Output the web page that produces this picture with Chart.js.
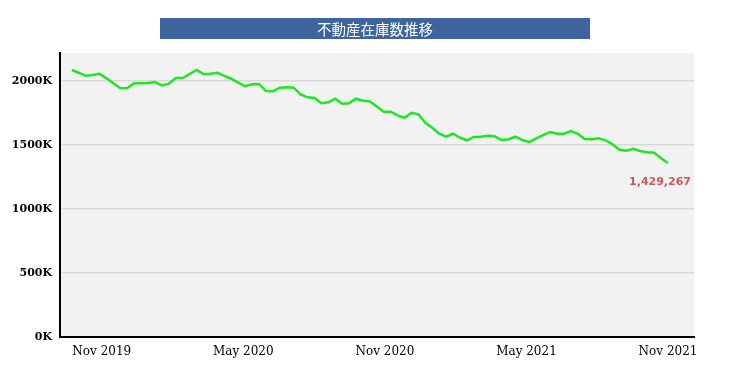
<!DOCTYPE html>
<html>
<head>
<meta charset="utf-8">
<script src="https://cdn.jsdelivr.net/npm/chart.js@4"></script>
<style>
    html, body { margin: 0; padding: 0; background: #fff; }
    #wrap { width: 750px; height: 375px; }
</style>
</head>
<body>
<div id="wrap"><canvas id="stockChart" width="750" height="375"></canvas></div>
<script>
// Inventory count (thousands), roughly every 9 days
const inventory = [
    2086, 2065, 2041, 2047, 2057, 2021, 1982, 1943, 1945, 1982,
    1982, 1984, 1992, 1966, 1979, 2023, 2023, 2055, 2086, 2055,
    2057, 2065, 2041, 2018, 1987, 1959, 1974, 1977, 1922, 1920,
    1948, 1951, 1948, 1896, 1873, 1867, 1826, 1834, 1862, 1823,
    1826, 1862, 1846, 1841, 1801, 1760, 1760, 1732, 1713, 1752,
    1740, 1674, 1635, 1588, 1565, 1588, 1557, 1537, 1563, 1565,
    1573, 1568, 1539, 1545, 1565, 1539, 1523, 1552, 1578, 1602,
    1588, 1588, 1609, 1588, 1547, 1545, 1552, 1537, 1505, 1463,
    1455, 1471, 1453, 1443, 1440, 1396, 1359
];
// months relative to Nov 2019
const firstMonth = -1.27;
const stepMonth = 0.2938;
const monthPos = inventory.map((v, i) => firstMonth + i * stepMonth);

const tickMonths = [0, 6, 12, 18, 24];
const tickLabels = ['Nov 2019', 'May 2020', 'Nov 2020', 'May 2021', 'Nov 2021'];
const yTicks = [0, 500, 1000, 1500, 2000];
const chartTitle = '不動産在庫数推移';
const latestLabel = '1,429,267';

// Plot background + title banner + latest value text
const decorations = {
    id: 'decorations',
    beforeDraw(chart) {
        const { ctx, chartArea: a } = chart;
        ctx.save();
        ctx.fillStyle = '#f2f2f2';
        ctx.fillRect(a.left, a.top, a.right - a.left, a.bottom - a.top);

        ctx.fillStyle = '#3e64a0';
        ctx.fillRect(160, 18, 430, 21);
        ctx.fillStyle = '#ffffff';
        ctx.font = '14.5px "Noto Sans CJK JP"';
        ctx.textAlign = 'center';
        ctx.textBaseline = 'middle';
        ctx.fillText(chartTitle, 375, 29);
        ctx.restore();
    },
    afterDatasetsDraw(chart) {
        const { ctx, chartArea: a } = chart;
        const meta = chart.getDatasetMeta(0);
        const last = meta.data[meta.data.length - 1];
        ctx.save();
        ctx.fillStyle = '#c85a5a';
        ctx.font = 'bold 11px "DejaVu Sans"';
        ctx.textAlign = 'right';
        ctx.textBaseline = 'middle';
        ctx.fillText(latestLabel, a.right - 3, last.y + 19);
        ctx.restore();
    }
};

new Chart(document.getElementById('stockChart'), {
    type: 'line',
    data: {
        datasets: [{
            data: inventory.map((v, i) => ({ x: monthPos[i], y: v })),
            borderColor: '#1de81d',
            borderWidth: 2.5,
            pointRadius: 0,
            tension: 0,
            fill: false
        }]
    },
    options: {
        responsive: false,
        animation: false,
        layout: { padding: { top: 53, right: 56, left: 0, bottom: 0 } },
        plugins: {
            legend: { display: false },
            tooltip: { enabled: false }
        },
        scales: {
            x: {
                type: 'linear',
                min: -1.77,
                max: 25.1,
                afterBuildTicks: axis => {
                    axis.ticks = tickMonths.map(v => ({ value: v }));
                },
                afterFit: axis => { axis.height = 38; },
                grid: { display: false },
                border: { color: '#000', width: 2 },
                ticks: {
                    color: '#000',
                    padding: 0,
                    maxRotation: 0,
                    font: { family: 'DejaVu Serif', size: 12 },
                    callback: function (value) {
                        const i = tickMonths.indexOf(value);
                        return i >= 0 ? tickLabels[i] : '';
                    }
                }
            },
            y: {
                min: 0,
                max: 2219,
                afterBuildTicks: axis => {
                    axis.ticks = yTicks.map(v => ({ value: v }));
                },
                afterFit: axis => { axis.width = 60; },
                grid: {
                    color: '#d8d8d8',
                    lineWidth: 1.5,
                    drawTicks: false
                },
                border: { color: '#000', width: 2 },
                ticks: {
                    color: '#000',
                    padding: 8,
                    font: { family: 'DejaVu Serif', size: 11, weight: 'bold' },
                    callback: function (value) {
                        return value + 'K';
                    }
                }
            }
        }
    },
    plugins: [decorations]
});
</script>
</body>
</html>
